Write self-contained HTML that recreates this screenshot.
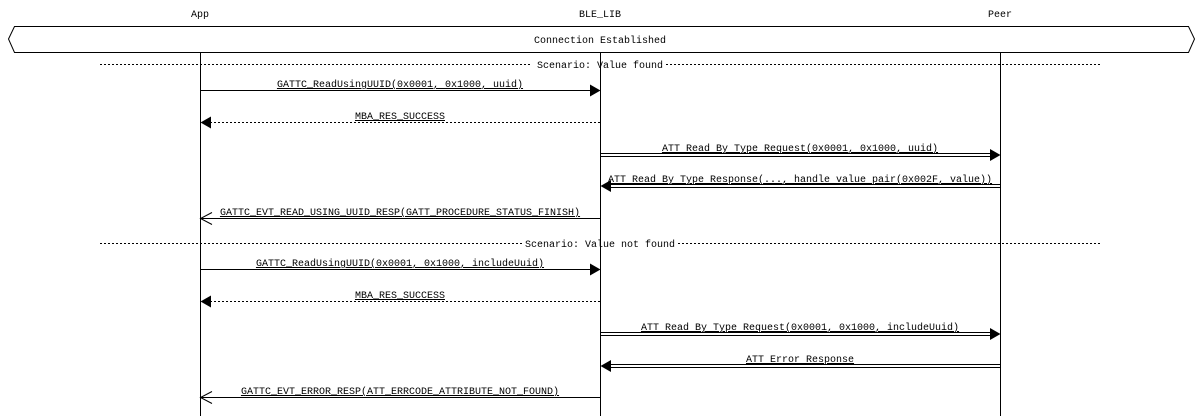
<!DOCTYPE html>
<html><head><meta charset="utf-8"><style>
html,body{margin:0;padding:0;background:#fff;}
svg{display:block;}
text{font-family:"Liberation Mono","DejaVu Sans Mono",monospace;font-size:10px;fill:#000;}
.u{text-decoration:underline;}
</style></head><body>
<svg width="1200" height="416" viewBox="0 0 1200 416" xmlns="http://www.w3.org/2000/svg">
<g text-anchor="middle">
<text x="200" y="17">App</text>
<text x="600" y="17">BLE_LIB</text>
<text x="1000" y="17">Peer</text>
</g>
<polygon points="8.5,39 14.5,26.5 1188.5,26.5 1194.5,39 1188.5,52.5 14.5,52.5" fill="#fff" stroke="#000" stroke-width="1"/>
<text x="600" y="43" text-anchor="middle">Connection Established</text>
<g stroke="#000" stroke-width="1">
<line x1="200.5" y1="52" x2="200.5" y2="416"/>
<line x1="600.5" y1="52" x2="600.5" y2="416"/>
<line x1="1000.5" y1="52" x2="1000.5" y2="416"/>
</g>
<!-- separators -->
<g stroke="#000" stroke-width="1" stroke-dasharray="2,2">
<line x1="100" y1="64.5" x2="532" y2="64.5"/>
<line x1="666" y1="64.5" x2="1100" y2="64.5"/>
<line x1="100" y1="243.5" x2="523" y2="243.5"/>
<line x1="678" y1="243.5" x2="1100" y2="243.5"/>
</g>
<text x="600" y="68" text-anchor="middle">Scenario: Value found</text>
<text x="600" y="247" text-anchor="middle">Scenario: Value not found</text>
<g stroke="#000" stroke-width="1" fill="none">
<!-- 1 -->
<line x1="200" y1="90.5" x2="590" y2="90.5"/>
<!-- 2 dashed -->
<line x1="210" y1="122.5" x2="600" y2="122.5" stroke-dasharray="2,2"/>
<!-- 3 double -->
<line x1="600" y1="153.5" x2="990" y2="153.5"/>
<line x1="600" y1="156.5" x2="990" y2="156.5"/>
<!-- 4 double -->
<line x1="610" y1="184.5" x2="1000" y2="184.5"/>
<line x1="610" y1="187.5" x2="1000" y2="187.5"/>
<!-- 5 open -->
<line x1="200" y1="218.5" x2="600" y2="218.5"/>
<polyline points="212,212.5 200.5,218.5 212,224.5"/>
<!-- 6 -->
<line x1="200" y1="269.5" x2="590" y2="269.5"/>
<line x1="210" y1="301.5" x2="600" y2="301.5" stroke-dasharray="2,2"/>
<line x1="600" y1="332.5" x2="990" y2="332.5"/>
<line x1="600" y1="335.5" x2="990" y2="335.5"/>
<line x1="610" y1="364.5" x2="1000" y2="364.5"/>
<line x1="610" y1="367.5" x2="1000" y2="367.5"/>
<line x1="200" y1="397.5" x2="600" y2="397.5"/>
<polyline points="212,391.5 200.5,397.5 212,403.5"/>
</g>
<g fill="#000">
<polygon points="590,84.5 600.5,90.5 590,96.5"/>
<polygon points="211,116.5 200.5,122.5 211,128.5"/>
<polygon points="990,149 1000.5,155 990,161"/>
<polygon points="611,180 600.5,186 611,192"/>
<polygon points="590,263.5 600.5,269.5 590,275.5"/>
<polygon points="211,295.5 200.5,301.5 211,307.5"/>
<polygon points="990,328 1000.5,334 990,340"/>
<polygon points="611,360 600.5,366 611,372"/>
</g>
<g text-anchor="middle" class="u">
<text class="u" x="400" y="87">GATTC_ReadUsingUUID(0x0001, 0x1000, uuid)</text>
<text class="u" x="400" y="119">MBA_RES_SUCCESS</text>
<text class="u" x="800" y="151">ATT Read By Type Request(0x0001, 0x1000, uuid)</text>
<text class="u" x="800" y="182">ATT Read By Type Response(..., handle value pair(0x002F, value))</text>
<text class="u" x="400" y="215">GATTC_EVT_READ_USING_UUID_RESP(GATT_PROCEDURE_STATUS_FINISH)</text>
<text class="u" x="400" y="266">GATTC_ReadUsingUUID(0x0001, 0x1000, includeUuid)</text>
<text class="u" x="400" y="298">MBA_RES_SUCCESS</text>
<text class="u" x="800" y="330">ATT Read By Type Request(0x0001, 0x1000, includeUuid)</text>
<text class="u" x="800" y="362">ATT Error Response</text>
<text class="u" x="400" y="394">GATTC_EVT_ERROR_RESP(ATT_ERRCODE_ATTRIBUTE_NOT_FOUND)</text>
</g>
</svg>
</body></html>
